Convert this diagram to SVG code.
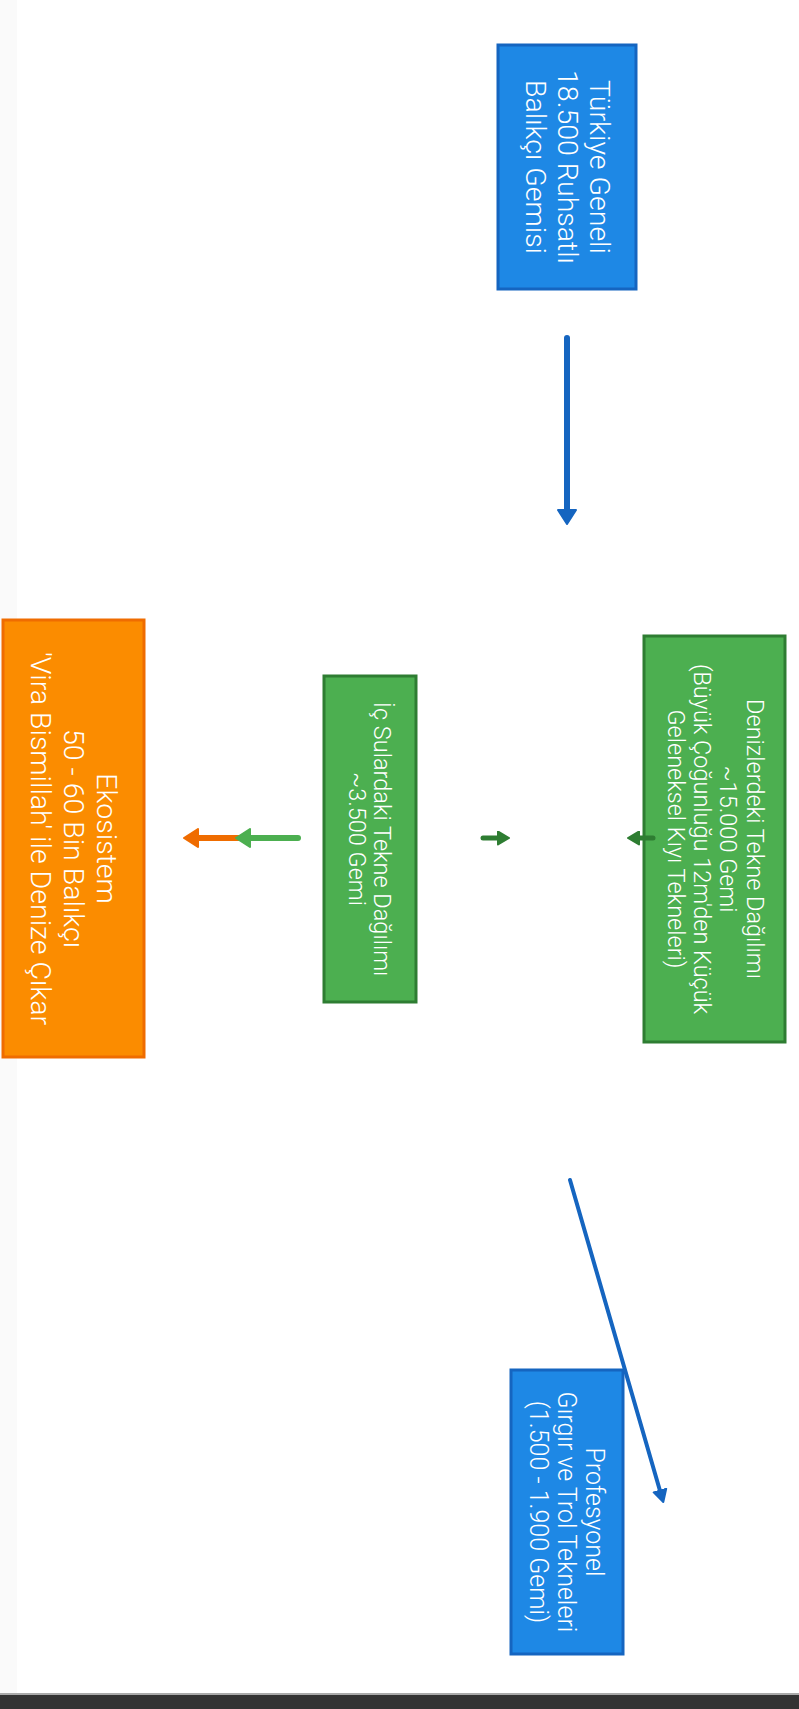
<svg xmlns="http://www.w3.org/2000/svg" width="799" height="1709" viewBox="0 0 799 1709">
<style>
.t{font-family:Roboto,"Liberation Sans",sans-serif;font-weight:300;fill:#ffffff;text-anchor:middle;dominant-baseline:central}
.blue{fill:#1e88e5;stroke:#1565c0;stroke-width:3}
.green{fill:#4caf50;stroke:#2e7d32;stroke-width:3}
.orange{fill:#fb8c00;stroke:#ef6c00;stroke-width:3}
.c{fill:none;stroke-linecap:round}
.h{stroke-linejoin:round;stroke-width:2}
</style>
<defs>
<marker id="hb" viewBox="0 0 20 20" refX="4" refY="10" markerWidth="20" markerHeight="20" markerUnits="userSpaceOnUse" orient="auto"><path class="h" d="M1,1 L15,10 L1,19 z" fill="#1565c0" stroke="#1565c0"/></marker>
<marker id="hb2" viewBox="0 0 16 16" refX="3" refY="8" markerWidth="16" markerHeight="16" markerUnits="userSpaceOnUse" orient="auto"><path class="h" d="M1,1.5 L13,8 L1,14.5 z" fill="#1565c0" stroke="#1565c0"/></marker>
<marker id="hd" viewBox="0 0 15 15" refX="3" refY="7.5" markerWidth="15" markerHeight="15" markerUnits="userSpaceOnUse" orient="auto"><path class="h" d="M1,1 L12,7.5 L1,14 z" fill="#2e7d32" stroke="#2e7d32"/></marker>
<marker id="hl" viewBox="0 0 20 20" refX="4" refY="10" markerWidth="20" markerHeight="20" markerUnits="userSpaceOnUse" orient="auto"><path class="h" d="M1,1 L15,10 L1,19 z" fill="#4caf50" stroke="#4caf50"/></marker>
<marker id="ho" viewBox="0 0 20 20" refX="4" refY="10" markerWidth="20" markerHeight="20" markerUnits="userSpaceOnUse" orient="auto"><path class="h" d="M1,1 L15,10 L1,19 z" fill="#ef6c00" stroke="#ef6c00"/></marker>
</defs>
<rect x="0" y="0" width="799" height="1709" fill="#ffffff"/>
<rect x="0" y="0" width="17" height="1694" fill="#fafafa"/>
<rect x="0" y="1693" width="799" height="2" fill="#aaaaaa"/>
<rect x="0" y="1695" width="799" height="14" fill="#333333"/>

<g id="node-turkiye">
<rect class="blue" x="498" y="45" width="138" height="244"/>
<g transform="translate(567,167) rotate(90)">
<text class="t" x="0" y="-32" font-size="28.5">Türkiye Geneli</text>
<text class="t" x="0" y="0" font-size="28.5">18.500 Ruhsatlı</text>
<text class="t" x="0" y="32" font-size="28.5">Balıkçı Gemisi</text>
</g>
</g>

<g id="node-denizler">
<rect class="green" x="644" y="636" width="141" height="406"/>
<g transform="translate(714.5,839) rotate(90)">
<text class="t" x="0" y="-40" font-size="23.5">Denizlerdeki Tekne Dağılımı</text>
<text class="t" x="0" y="-13" font-size="23.5">~15.000 Gemi</text>
<text class="t" x="0" y="13" font-size="23.5">(Büyük Çoğunluğu 12m'den Küçük</text>
<text class="t" x="0" y="39" font-size="23.5">Geleneksel Kıyı Tekneleri)</text>
</g>
</g>

<g id="node-icsular">
<rect class="green" x="324" y="676" width="92" height="326"/>
<g transform="translate(369.5,839) rotate(90)">
<text class="t" x="0" y="-12" font-size="23.5">İç Sulardaki Tekne Dağılımı</text>
<text class="t" x="0" y="13" font-size="23.5">~3.500 Gemi</text>
</g>
</g>

<g id="node-ekosistem">
<rect class="orange" x="3" y="620" width="141" height="437"/>
<g transform="translate(73.5,838.5) rotate(90)">
<text class="t" x="0" y="-33" font-size="28.5">Ekosistem</text>
<text class="t" x="0" y="0" font-size="28.5">50 - 60 Bin Balıkçı</text>
<text class="t" x="0" y="33" font-size="28.5">'Vira Bismillah' ile Denize Çıkar</text>
</g>
</g>

<g id="node-profesyonel">
<rect class="blue" x="511" y="1370" width="112" height="284"/>
<g transform="translate(566.5,1512) rotate(90)">
<text class="t" x="0" y="-28" font-size="25">Profesyonel</text>
<text class="t" x="0" y="0" font-size="25">Gırgır ve Trol Tekneleri</text>
<text class="t" x="0" y="28" font-size="25">(1.500 - 1.900 Gemi)</text>
</g>
</g>

<g id="connectors">
<line class="c" x1="567" y1="338" x2="567" y2="513" stroke="#1565c0" stroke-width="6" marker-end="url(#hb)"/>
<line class="c" x1="570" y1="1180" x2="660.5" y2="1492.5" stroke="#1565c0" stroke-width="4" marker-end="url(#hb2)"/>
<line class="c" x1="653" y1="838" x2="637" y2="838" stroke="#2e7d32" stroke-width="5" marker-end="url(#hd)"/>
<line class="c" x1="483" y1="838" x2="500" y2="838" stroke="#2e7d32" stroke-width="5" marker-end="url(#hd)"/>
<line class="c" x1="240" y1="838" x2="195" y2="838" stroke="#ef6c00" stroke-width="6" marker-end="url(#ho)"/>
<line class="c" x1="298" y1="838" x2="247" y2="838" stroke="#4caf50" stroke-width="6" marker-end="url(#hl)"/>
</g>
</svg>
